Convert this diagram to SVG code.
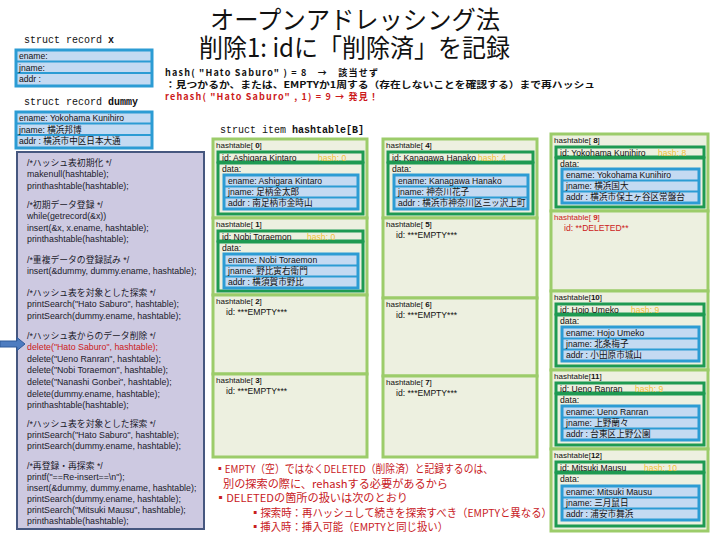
<svg xmlns="http://www.w3.org/2000/svg" width="720" height="540" viewBox="0 0 720 540">
<style>
.bg{fill:#ffffff}
.ent{fill:#edf0e0;stroke:#9ccc6a;stroke-width:3}
.idb{fill:#edf0e0;stroke:#1e9a52;stroke-width:3}
.blu{fill:#c4daf2;stroke:#2c9cd4;stroke-width:3}
.sep{stroke:#2c9cd4;stroke-width:2}
.code{fill:#cdc9e1;stroke:#46577f;stroke-width:2}
.t{font-family:"Liberation Sans","Noto Sans CJK JP",sans-serif;font-size:8.6px;fill:#111}
.h{font-family:"Liberation Sans","Noto Sans CJK JP",sans-serif;font-size:8px;fill:#111}
.hs{font-family:"Liberation Sans",sans-serif;font-size:8.6px;fill:#f2c13a}
.c{font-family:"Liberation Sans","Noto Sans CJK JP",sans-serif;font-size:8.8px;fill:#1a1a2a}
.red{fill:#cc1a1a}
.mono{font-family:"Liberation Mono","Noto Sans CJK JP",monospace;font-size:10px;fill:#111}
.title{font-family:"Noto Sans CJK JP",sans-serif;font-size:25px;fill:#111}
.hl{font-family:"Noto Sans CJK JP",sans-serif;font-size:9px;font-weight:bold;fill:#111}
.note{font-family:"Noto Sans CJK JP",sans-serif;font-size:11px;fill:#c8201e}
</style>
<rect class="bg" x="0" y="0" width="720" height="540"/>

<g id="title">
<text class="title" x="210" y="29" textLength="290" lengthAdjust="spacingAndGlyphs">オープンアドレッシング法</text>
<text class="title" x="199" y="57" textLength="311" lengthAdjust="spacingAndGlyphs">削除1: idに「削除済」を記録</text>
</g>

<g id="hash-lines">
<text class="hl" x="165" y="76" textLength="213" lengthAdjust="spacing">hash( "Hato Saburo" ) = 8　→　該当せず</text>
<text class="hl" x="165" y="88" textLength="430" lengthAdjust="spacingAndGlyphs">：見つかるか、または、EMPTYか1周する（存在しないことを確認する）まで再ハッシュ</text>
<text class="hl" x="165" y="100" textLength="213" lengthAdjust="spacing" style="fill:#cc1a1a">rehash( "Hato Saburo" , 1) = 9 → 発見！</text>
</g>

<g id="record-x">
<text class="mono" x="24" y="43">struct record <tspan font-weight="bold">x</tspan></text>
<rect class="blu" x="16" y="50" width="136" height="36"/>
<line class="sep" x1="16" y1="61.5" x2="152" y2="61.5"/>
<line class="sep" x1="16" y1="73" x2="152" y2="73"/>
<text class="t" x="19" y="59">ename:</text>
<text class="t" x="19" y="70.5">jname:</text>
<text class="t" x="19" y="82">addr :</text>
</g>

<g id="record-dummy">
<text class="mono" x="24" y="105">struct record <tspan font-weight="bold">dummy</tspan></text>
<rect class="blu" x="16" y="112" width="136" height="36"/>
<line class="sep" x1="16" y1="123.5" x2="152" y2="123.5"/>
<line class="sep" x1="16" y1="135" x2="152" y2="135"/>
<text class="t" x="19" y="121">ename: Yokohama Kunihiro</text>
<text class="t" x="19" y="132.5">jname: 横浜邦博</text>
<text class="t" x="19" y="144">addr : 横浜市中区日本大通</text>
</g>

<g id="code">
<rect class="code" x="17" y="152" width="187" height="377"/>
<text class="c" x="27" y="165.5">/*ハッシュ表初期化 */</text>
<text class="c" x="27" y="176.5">makenull(hashtable);</text>
<text class="c" x="27" y="188.5">printhashtable(hashtable);</text>
<text class="c" x="27" y="207.5">/*初期データ登録 */</text>
<text class="c" x="27" y="218.5">while(getrecord(&amp;x))</text>
<text class="c" x="27" y="230.5">  insert(&amp;x, x.ename, hashtable);</text>
<text class="c" x="27" y="241.5">printhashtable(hashtable);</text>
<text class="c" x="27" y="262.5">/*重複データの登録試み */</text>
<text class="c" x="27" y="273.5">insert(&amp;dummy, dummy.ename, hashtable);</text>
<text class="c" x="27" y="295.5">/*ハッシュ表を対象とした探索 */</text>
<text class="c" x="27" y="306.5">printSearch("Hato Saburo", hashtable);</text>
<text class="c" x="27" y="318.5">printSearch(dummy.ename, hashtable);</text>
<text class="c" x="27" y="338.5">/*ハッシュ表からのデータ削除 */</text>
<text class="c red" x="27" y="349.5">delete("Hato Saburo", hashtable);</text>
<text class="c" x="27" y="361.5">delete("Ueno Ranran", hashtable);</text>
<text class="c" x="27" y="372.5">delete("Nobi Toraemon", hashtable);</text>
<text class="c" x="27" y="384.5">delete("Nanashi Gonbei", hashtable);</text>
<text class="c" x="27" y="396.5">delete(dummy.ename, hashtable);</text>
<text class="c" x="27" y="407.5">printhashtable(hashtable);</text>
<text class="c" x="27" y="426.5">/*ハッシュ表を対象とした探索 */</text>
<text class="c" x="27" y="437.5">printSearch("Hato Saburo", hashtable);</text>
<text class="c" x="27" y="448.5">printSearch(dummy.ename, hashtable);</text>
<text class="c" x="27" y="468.5">/*再登録・再探索 */</text>
<text class="c" x="27" y="479.5">printf("==Re-insert==\n");</text>
<text class="c" x="27" y="490.5">insert(&amp;dummy, dummy.ename, hashtable);</text>
<text class="c" x="27" y="501.5">printSearch(dummy.ename, hashtable);</text>
<text class="c" x="27" y="512.5">printSearch("Mitsuki Mausu", hashtable);</text>
<text class="c" x="27" y="523.5">printhashtable(hashtable);</text>
</g>

<g id="connectors">
<polygon points="0,341 17,341 17,337.5 25,344 17,350.5 17,347 0,347" fill="#4d7cc0" stroke="#2f5a9a" stroke-width="1"/>
</g>

<g id="hashtable-label">
<text class="mono" x="220" y="133">struct item <tspan font-weight="bold">hashtable[B]</tspan></text>
</g>

<!-- column 1 -->
<g id="ht0" transform="translate(213,139)">
<rect class="ent" x="0" y="0" width="154" height="79"/>
<text class="h" x="3" y="9">hashtable[ <tspan font-weight="bold">0</tspan>]</text>
<rect class="idb" x="5" y="13" width="145" height="10"/>
<text class="t" x="9" y="21.5">id: Ashigara Kintaro</text>
<text class="hs" x="105" y="21.5">hash: 0</text>
<rect class="idb" x="5" y="24" width="145" height="51"/>
<text class="t" x="9" y="33">data:</text>
<rect class="blu" x="11" y="36" width="134" height="34"/>
<line class="sep" x1="11" y1="47.5" x2="145" y2="47.5"/>
<line class="sep" x1="11" y1="58.5" x2="145" y2="58.5"/>
<text class="t" x="15" y="45">ename: Ashigara Kintaro</text>
<text class="t" x="15" y="56">jname: 足柄金太郎</text>
<text class="t" x="15" y="67">addr : 南足柄市金時山</text>
</g>
<g id="ht1" transform="translate(213,218)">
<rect class="ent" x="0" y="0" width="154" height="77"/>
<text class="h" x="3" y="9">hashtable[ <tspan font-weight="bold">1</tspan>]</text>
<rect class="idb" x="5" y="13" width="145" height="10"/>
<text class="t" x="9" y="21.5">id: Nobi Toraemon</text>
<text class="hs" x="94" y="21.5">hash: 0</text>
<rect class="idb" x="5" y="24" width="145" height="49"/>
<text class="t" x="9" y="33">data:</text>
<rect class="blu" x="11" y="36" width="134" height="34"/>
<line class="sep" x1="11" y1="47.5" x2="145" y2="47.5"/>
<line class="sep" x1="11" y1="58.5" x2="145" y2="58.5"/>
<text class="t" x="15" y="45">ename: Nobi Toraemon</text>
<text class="t" x="15" y="56">jname: 野比寅右衛門</text>
<text class="t" x="15" y="67">addr : 横須賀市野比</text>
</g>
<g id="ht2" transform="translate(213,295)">
<rect class="ent" x="0" y="0" width="154" height="79"/>
<text class="h" x="3" y="9">hashtable[ <tspan font-weight="bold">2</tspan>]</text>
<text class="t" x="13" y="20">id: ***EMPTY***</text>
</g>
<g id="ht3" transform="translate(213,374)">
<rect class="ent" x="0" y="0" width="154" height="83"/>
<text class="h" x="3" y="9">hashtable[ <tspan font-weight="bold">3</tspan>]</text>
<text class="t" x="13" y="20">id: ***EMPTY***</text>
</g>

<!-- column 2 -->
<g id="ht4" transform="translate(383,139)">
<rect class="ent" x="0" y="0" width="154" height="79"/>
<text class="h" x="3" y="9">hashtable[ <tspan font-weight="bold">4</tspan>]</text>
<rect class="idb" x="5" y="13" width="145" height="10"/>
<text class="t" x="9" y="21.5">id: Kanagawa Hanako</text>
<text class="hs" x="95" y="21.5">hash: 4</text>
<rect class="idb" x="5" y="24" width="145" height="51"/>
<text class="t" x="9" y="33">data:</text>
<rect class="blu" x="11" y="36" width="134" height="34"/>
<line class="sep" x1="11" y1="47.5" x2="145" y2="47.5"/>
<line class="sep" x1="11" y1="58.5" x2="145" y2="58.5"/>
<text class="t" x="15" y="45">ename: Kanagawa Hanako</text>
<text class="t" x="15" y="56">jname: 神奈川花子</text>
<text class="t" x="15" y="67">addr : 横浜市神奈川区三ッ沢上町</text>
</g>
<g id="ht5" transform="translate(383,218)">
<rect class="ent" x="0" y="0" width="154" height="80"/>
<text class="h" x="3" y="9">hashtable[ <tspan font-weight="bold">5</tspan>]</text>
<text class="t" x="13" y="20">id: ***EMPTY***</text>
</g>
<g id="ht6" transform="translate(383,298)">
<rect class="ent" x="0" y="0" width="154" height="78"/>
<text class="h" x="3" y="9">hashtable[ <tspan font-weight="bold">6</tspan>]</text>
<text class="t" x="13" y="20">id: ***EMPTY***</text>
</g>
<g id="ht7" transform="translate(383,376)">
<rect class="ent" x="0" y="0" width="154" height="81"/>
<text class="h" x="3" y="9">hashtable[ <tspan font-weight="bold">7</tspan>]</text>
<text class="t" x="13" y="20">id: ***EMPTY***</text>
</g>

<!-- column 3 -->
<g id="ht8" transform="translate(551,134)">
<rect class="ent" x="0" y="0" width="157" height="77"/>
<text class="h" x="3" y="9">hashtable[ <tspan font-weight="bold">8</tspan>]</text>
<rect class="idb" x="5" y="13" width="148" height="10"/>
<text class="t" x="9" y="21.5">id: Yokohama Kunihiro</text>
<text class="hs" x="107" y="21.5">hash: 8</text>
<rect class="idb" x="5" y="24" width="148" height="49"/>
<text class="t" x="9" y="33">data:</text>
<rect class="blu" x="11" y="35" width="137" height="34"/>
<line class="sep" x1="11" y1="46.5" x2="148" y2="46.5"/>
<line class="sep" x1="11" y1="57.5" x2="148" y2="57.5"/>
<text class="t" x="15" y="44">ename: Yokohama Kunihiro</text>
<text class="t" x="15" y="55">jname: 横浜国大</text>
<text class="t" x="15" y="66">addr : 横浜市保土ヶ谷区常盤台</text>
</g>
<g id="ht9" transform="translate(551,211)">
<rect class="ent" x="0" y="0" width="157" height="80"/>
<text class="h red" x="3" y="9">hashtable[ <tspan font-weight="bold">9</tspan>]</text>
<text class="t red" x="13" y="20">id: **DELETED**</text>
</g>
<g id="ht10" transform="translate(551,291)">
<rect class="ent" x="0" y="0" width="157" height="79"/>
<text class="h" x="3" y="9">hashtable[<tspan font-weight="bold">10</tspan>]</text>
<rect class="idb" x="5" y="13" width="148" height="10"/>
<text class="t" x="9" y="21.5">id: Hojo Umeko</text>
<text class="hs" x="80" y="21.5">hash: 9</text>
<rect class="idb" x="5" y="24" width="148" height="51"/>
<text class="t" x="9" y="33">data:</text>
<rect class="blu" x="11" y="36" width="137" height="34"/>
<line class="sep" x1="11" y1="47.5" x2="148" y2="47.5"/>
<line class="sep" x1="11" y1="58.5" x2="148" y2="58.5"/>
<text class="t" x="15" y="45">ename: Hojo Umeko</text>
<text class="t" x="15" y="56">jname: 北条梅子</text>
<text class="t" x="15" y="67">addr : 小田原市城山</text>
</g>
<g id="ht11" transform="translate(551,370)">
<rect class="ent" x="0" y="0" width="157" height="79"/>
<text class="h" x="3" y="9">hashtable[<tspan font-weight="bold">11</tspan>]</text>
<rect class="idb" x="5" y="13" width="148" height="10"/>
<text class="t" x="9" y="21.5">id: Ueno Ranran</text>
<text class="hs" x="84" y="21.5">hash: 9</text>
<rect class="idb" x="5" y="24" width="148" height="51"/>
<text class="t" x="9" y="33">data:</text>
<rect class="blu" x="11" y="36" width="137" height="34"/>
<line class="sep" x1="11" y1="47.5" x2="148" y2="47.5"/>
<line class="sep" x1="11" y1="58.5" x2="148" y2="58.5"/>
<text class="t" x="15" y="45">ename: Ueno Ranran</text>
<text class="t" x="15" y="56">jname: 上野蘭々</text>
<text class="t" x="15" y="67">addr : 台東区上野公園</text>
</g>
<g id="ht12" transform="translate(551,449)">
<rect class="ent" x="0" y="0" width="157" height="82"/>
<text class="h" x="3" y="9">hashtable[<tspan font-weight="bold">12</tspan>]</text>
<rect class="idb" x="5" y="13" width="148" height="10"/>
<text class="t" x="9" y="21.5">id: Mitsuki Mausu</text>
<text class="hs" x="93" y="21.5">hash: 10</text>
<rect class="idb" x="5" y="24" width="148" height="53"/>
<text class="t" x="9" y="33">data:</text>
<rect class="blu" x="11" y="37" width="137" height="34"/>
<line class="sep" x1="11" y1="48.5" x2="148" y2="48.5"/>
<line class="sep" x1="11" y1="59.5" x2="148" y2="59.5"/>
<text class="t" x="15" y="46">ename: Mitsuki Mausu</text>
<text class="t" x="15" y="57">jname: 三月鼠日</text>
<text class="t" x="15" y="68">addr : 浦安市舞浜</text>
</g>

<g id="notes">
<text class="note" x="215" y="473" textLength="278" lengthAdjust="spacingAndGlyphs">▪EMPTY（空）ではなくDELETED（削除済）と記録するのは、</text>
<text class="note" x="223" y="488" textLength="225" lengthAdjust="spacingAndGlyphs">別の探索の際に、rehashする必要があるから</text>
<text class="note" x="215" y="502" textLength="193" lengthAdjust="spacingAndGlyphs">▪DELETEDの箇所の扱いは次のとおり</text>
<text class="note" x="250" y="517" textLength="302" lengthAdjust="spacingAndGlyphs">▪探索時：再ハッシュして続きを探索すべき（EMPTYと異なる）</text>
<text class="note" x="250" y="531" textLength="198" lengthAdjust="spacingAndGlyphs">▪挿入時：挿入可能（EMPTYと同じ扱い）</text>
</g>
</svg>
